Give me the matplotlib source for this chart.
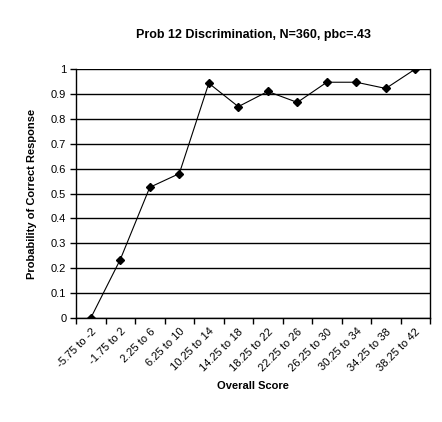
import numpy as np
import matplotlib.pyplot as plt
from matplotlib.ticker import FixedLocator

plt.rcParams['font.family'] = ['Liberation Sans', 'DejaVu Sans']

# Score bins and probability of a correct response
score_bins = ["-5.75 to -2", "-1.75 to 2", "2.25 to 6", "6.25 to 10",
              "10.25 to 14", "14.25 to 18", "18.25 to 22", "22.25 to 26",
              "26.25 to 30", "30.25 to 34", "34.25 to 38", "38.25 to 42"]
prob_correct = [0.0, 0.235, 0.525, 0.58, 0.943, 0.849, 0.91, 0.866,
                0.947, 0.947, 0.922, 1.0]
y_ticks = [0, 0.1, 0.2, 0.3, 0.4, 0.5, 0.6, 0.7, 0.8, 0.9, 1]
y_tick_labels = ["0", "0.1", "0.2", "0.3", "0.4", "0.5", "0.6", "0.7",
                 "0.8", "0.9", "1"]

fig = plt.figure(figsize=(4.42, 4.22), dpi=100)
ax = fig.add_axes([0.172, 0.2464, 0.801, 0.59])

x = np.arange(len(score_bins))
ax.plot(x, prob_correct, color='black', linewidth=0.8,
        marker='D', markersize=4.5, markerfacecolor='black',
        markeredgecolor='black', zorder=3)

ax.set_xlim(-0.5, len(score_bins) - 0.5)
ax.set_ylim(0, 1)

ax.set_yticks(y_ticks)
ax.set_yticklabels(y_tick_labels, fontsize=8)
ax.yaxis.grid(True, color='black', linewidth=1)
ax.set_axisbelow(True)

ax.set_xticks(x)
ax.set_xticklabels(score_bins, rotation=45, ha='right', fontsize=8,
                   rotation_mode='anchor')
ax.xaxis.set_minor_locator(FixedLocator(np.arange(-0.5, len(score_bins), 1)))
ax.tick_params(axis='x', which='major', length=0, pad=6)
ax.tick_params(axis='x', which='minor', length=4, width=1, direction='out')
ax.tick_params(axis='y', length=4, width=1, direction='out', pad=3)

for side in ['left', 'bottom', 'right']:
    ax.spines[side].set_linewidth(1)
ax.spines['top'].set_visible(False)

ax.set_title("Prob 12 Discrimination, N=360, pbc=.43", fontsize=9,
             fontweight='bold', pad=22)
ax.set_xlabel("Overall Score", fontsize=8, fontweight='bold', labelpad=6)
ax.set_ylabel("Probability of Correct Response", fontsize=8,
              fontweight='bold', labelpad=10)

fig.savefig("out.png", dpi=100)
